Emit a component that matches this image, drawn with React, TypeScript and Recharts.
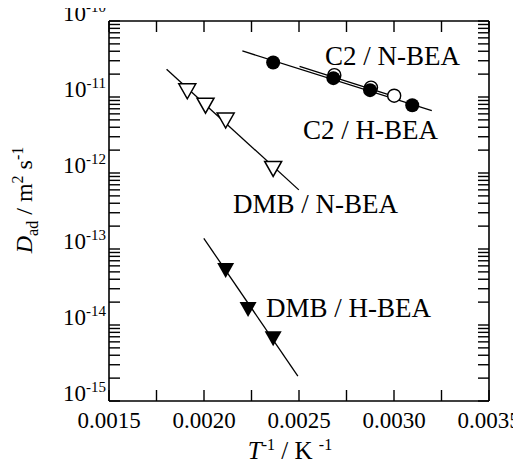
import React from 'react';
import { ComposedChart, Scatter, XAxis, YAxis } from 'recharts';

// ---- data (x = 1/T in K^-1, y = D_ad in m^2 s^-1) ----
const c2HbeaX = [0.002364, 0.002681, 0.002874, 0.003096];
const c2HbeaY = [2.84e-11, 1.77e-11, 1.23e-11, 7.8e-12];
const c2NbeaX = [0.002686, 0.002879, 0.003001];
const c2NbeaY = [1.94e-11, 1.33e-11, 1.04e-11];
const dmbNbeaX = [0.001912, 0.002008, 0.002114, 0.002364];
const dmbNbeaY = [1.19e-11, 7.7e-12, 4.9e-12, 1.13e-12];
const dmbHbeaX = [0.002114, 0.002232, 0.002364];
const dmbHbeaY = [5.2e-14, 1.6e-14, 6.6e-15];

// fitted lines (end points)
const c2HbeaFitX = [0.002202, 0.003199];
const c2HbeaFitY = [4.04e-11, 6.6e-12];
const c2NbeaFitX = [0.002503, 0.003017];
const c2NbeaFitY = [2.53e-11, 9.9e-12];
const dmbNbeaFitX = [0.001803, 0.002499];
const dmbNbeaFitY = [2.32e-11, 6.0e-13];
const dmbHbeaFitX = [0.001999, 0.002494];
const dmbHbeaFitY = [1.38e-13, 2.13e-15];

// axes
const xDomain = [0.0015, 0.0035];
const yDomain = [1e-15, 1e-10];
const xTicks = [0.0015, 0.00175, 0.002, 0.00225, 0.0025, 0.00275, 0.003, 0.00325, 0.0035];
const xTickLabels = ['0.0015', '', '0.0020', '', '0.0025', '', '0.0030', '', '0.0035'];
const decadeExps = [-15, -14, -13, -12, -11, -10];
const minorMult = [2, 3, 4, 5, 6, 7, 8, 9];

const yTicks: number[] = [];
decadeExps.forEach((e) => {
  yTicks.push(Math.pow(10, e));
  if (e < -10) minorMult.forEach((m) => yTicks.push(m * Math.pow(10, e)));
});

const pts = (xs: number[], ys: number[]) => xs.map((x, i) => ({ x, y: ys[i] }));

const FONT = '"Liberation Serif", "Times New Roman", Times, serif';
const TL = 11;
const TW = 1.4;
const FW = 1.6;

const W = 521;
const H = 468;
const M = { top: 20, right: 31, bottom: 17, left: 19 };
const YAXIS_W = 90;
const XAXIS_H = 50;

const isDecade = (v: number) => {
  const e = Math.round(Math.log10(v));
  return Math.abs(v - Math.pow(10, e)) < 1e-6 * v;
};

const LeftTick = (p: any) => {
  const { x, y, payload } = p;
  const v = payload.value;
  const e = Math.round(Math.log10(v));
  return (
    <g>
      <rect x={x} y={y - TW / 2} width={TL} height={TW} fill="#000" />
      {isDecade(v) && (
        <text x={x - 3} y={y} textAnchor="end" fontFamily={FONT} fontSize={23} fill="#000">
          10
          <tspan dy={-9} fontSize={15}>{String(e)}</tspan>
        </text>
      )}
    </g>
  );
};

const RightTick = (p: any) => {
  const { x, y } = p;
  return <rect x={x - TL} y={y - TW / 2} width={TL} height={TW} fill="#000" />;
};

const BottomTick = (p: any) => {
  const { x, y, index } = p;
  const label = xTickLabels[index] || '';
  return (
    <g>
      <rect x={x - TW / 2} y={y - TL} width={TW} height={TL} fill="#000" />
      {label && (
        <text x={x} y={y + 27} textAnchor="middle" fontFamily={FONT} fontSize={23} fill="#000">
          {label}
        </text>
      )}
    </g>
  );
};

const TopTick = (p: any) => {
  const { x, y } = p;
  return <rect x={x - TW / 2} y={y} width={TW} height={TL} fill="#000" />;
};

const filledCircle = (p: any) => <circle cx={p.cx} cy={p.cy} r={7} fill="#000" />;
const openCircle = (p: any) => (
  <circle cx={p.cx} cy={p.cy} r={6.5} fill="#fff" stroke="#000" strokeWidth={1.4} />
);
const triPts = (cx: number, cy: number) =>
  `${cx - 8.5},${cy - 7.5} ${cx + 8.5},${cy - 7.5} ${cx},${cy + 7.5}`;
const openTri = (p: any) => (
  <polygon points={triPts(p.cx, p.cy)} fill="#fff" stroke="#000" strokeWidth={1.5} />
);
const filledTri = (p: any) => <polygon points={triPts(p.cx, p.cy)} fill="#000" />;
const noShape = () => <g />;

const lineStyle = { stroke: '#000', strokeWidth: 1.3 };
const axisLineStyle = { stroke: '#000', strokeWidth: FW };

export default function App() {
  return (
    <div style={{ position: 'relative', left: -8, top: -8, width: W, height: H }}>
      <ComposedChart width={W} height={H} margin={M}>
        <XAxis
          xAxisId={0}
          dataKey="x"
          type="number"
          domain={xDomain}
          ticks={xTicks}
          interval={0}
          height={XAXIS_H}
          tickSize={0}
          tickMargin={0}
          tickLine={false}
          axisLine={axisLineStyle}
          tick={(p: any) => <BottomTick {...p} />}
        />
        <XAxis
          xAxisId="top"
          orientation="top"
          dataKey="x"
          type="number"
          domain={xDomain}
          ticks={xTicks}
          interval={0}
          height={1}
          tickSize={0}
          tickMargin={0}
          tickLine={false}
          axisLine={axisLineStyle}
          tick={(p: any) => <TopTick {...p} />}
        />
        <YAxis
          yAxisId={0}
          dataKey="y"
          type="number"
          scale="log"
          domain={yDomain}
          ticks={yTicks}
          interval={0}
          width={YAXIS_W}
          tickSize={0}
          tickMargin={0}
          tickLine={false}
          axisLine={axisLineStyle}
          tick={(p: any) => <LeftTick {...p} />}
        />
        <YAxis
          yAxisId="right"
          orientation="right"
          dataKey="y"
          type="number"
          scale="log"
          domain={yDomain}
          ticks={yTicks}
          interval={0}
          width={1}
          tickSize={0}
          tickMargin={0}
          tickLine={false}
          axisLine={axisLineStyle}
          tick={(p: any) => <RightTick {...p} />}
        />
        <Scatter
          xAxisId="top"
          yAxisId="right"
          data={pts(c2HbeaX, c2HbeaY)}
          shape={noShape}
          isAnimationActive={false}
        />
        <Scatter data={pts(c2HbeaFitX, c2HbeaFitY)} line={lineStyle} shape={noShape} isAnimationActive={false} />
        <Scatter data={pts(c2NbeaFitX, c2NbeaFitY)} line={lineStyle} shape={noShape} isAnimationActive={false} />
        <Scatter data={pts(dmbNbeaFitX, dmbNbeaFitY)} line={lineStyle} shape={noShape} isAnimationActive={false} />
        <Scatter data={pts(dmbHbeaFitX, dmbHbeaFitY)} line={lineStyle} shape={noShape} isAnimationActive={false} />
        <Scatter data={pts(c2NbeaX, c2NbeaY)} shape={openCircle} isAnimationActive={false} />
        <Scatter data={pts(c2HbeaX, c2HbeaY)} shape={filledCircle} isAnimationActive={false} />
        <Scatter data={pts(dmbNbeaX, dmbNbeaY)} shape={openTri} isAnimationActive={false} />
        <Scatter data={pts(dmbHbeaX, dmbHbeaY)} shape={filledTri} isAnimationActive={false} />
      </ComposedChart>
      <svg
        width={W}
        height={H}
        style={{ position: 'absolute', left: 0, top: 0, pointerEvents: 'none' }}
      >
        <g fontFamily={FONT} fill="#000">
          <text x={325} y={65} fontSize={27}>C2 / N-BEA</text>
          <text x={303} y={139} fontSize={27}>C2 / H-BEA</text>
          <text x={233} y={213} fontSize={27}>DMB / N-BEA</text>
          <text x={266} y={317} fontSize={27}>DMB / H-BEA</text>
          <text x={290} y={459} fontSize={25} textAnchor="middle">
            <tspan fontStyle="italic">T</tspan>
            <tspan dy={-9} fontSize={16}>-1</tspan>
            <tspan dy={9}> / K </tspan>
            <tspan dy={-9} fontSize={16}>-1</tspan>
          </text>
          <text transform="translate(32,200) rotate(-90)" fontSize={24} textAnchor="middle">
            <tspan fontStyle="italic">D</tspan>
            <tspan dy={6} fontSize={16}>ad</tspan>
            <tspan dy={-6}> / m</tspan>
            <tspan dy={-9} fontSize={16}>2</tspan>
            <tspan dy={9}> s</tspan>
            <tspan dy={-9} fontSize={16}>-1</tspan>
          </text>
        </g>
      </svg>
    </div>
  );
}
